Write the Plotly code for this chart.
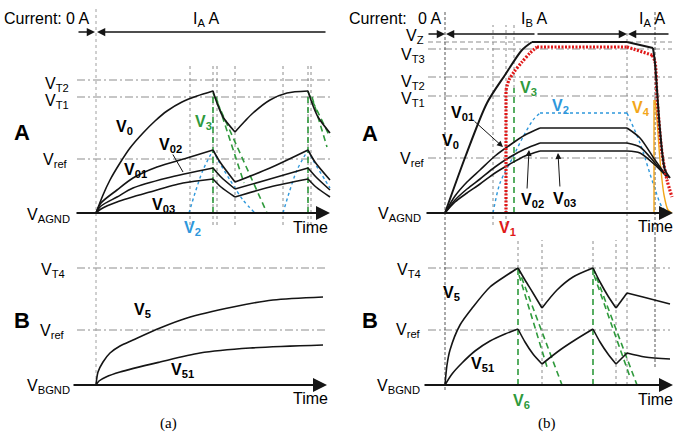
import plotly.graph_objects as go

W, H = 680, 432

# ---------------- data (time t, voltage v; arbitrary units) ----------------
# Panel (a) A
aA_VT2, aA_VT1, aA_Vref = 133, 116, 54
aA_V0_t = [0, 7, 14, 24, 34, 47, 59, 71, 86, 101, 117, None, 117, 121, 127, 139, None,
           139, 149, 157, 174, 191, 212, None, 212, 216, 222, 234]
aA_V0_v = [0, 18, 33, 50, 65, 80, 92, 102, 111, 117, 122, None, 122, 110, 96, 81, None,
           81, 92, 100, 113, 120, 122, None, 122, 110, 96, 80]
aA_V01_t = [0, 5, 21, 37, 71, 117, None, 117, 125, 139, None, 139, 174, 212, None, 212, 220, 234]
aA_V01_v = [0, 7, 16, 25, 35, 45, None, 45, 36, 24, None, 24, 34, 45, None, 45, 36, 23]
aA_V02_t = [0, 5, 21, 37, 61, 91, 117, None, 117, 124, 139, None, 139, 174, 212, None, 212, 219, 234]
aA_V02_v = [0, 10, 23, 35, 46, 55, 63, None, 63, 51, 31, None, 31, 45, 63, None, 63, 51, 33]
aA_V03_t = [0, 5, 21, 54, 87, 117, None, 117, 125, 139, None, 139, 174, 212, None, 212, 220, 234]
aA_V03_v = [0, 4, 11, 21, 30, 34, None, 34, 26, 16, None, 16, 26, 34, None, 34, 26, 16]
aA_V2_t = [93, 99, 107, 117, None, 117, 122, 134, 147, 159, None, 187, 193, 201, 212, None, 212, 217, 229, 234]
aA_V2_v = [0, 20, 43, 63, None, 63, 53, 33, 13, 0, None, 0, 20, 43, 63, None, 63, 53, 33, 25]
aA_V3_t = [117, 117, None, 117, 171, None, 120, 148, None, 212, 212, None, 212, 234, None, 216, 231]
aA_V3_v = [0, 118, None, 120, 0, None, 116, 30, None, 0, 118, None, 121, 76, None, 116, 66]
aA_events_t = [94, 117, 121, 139, 187, 212, 215]

# Panel (a) B
aB_VT4, aB_Vref = 117, 55
aB_V5_t = [0, 2, 7, 14, 24, 37, 64, 91, 137, 177, 227]
aB_V5_v = [0, 13, 23, 32, 39, 45, 57, 67, 78, 85, 88]
aB_V51_t = [0, 3, 10, 24, 64, 104, 154, 227]
aB_V51_v = [0, 4, 8, 13, 23, 32, 37, 40]

# Panel (b) A
bA_VZ, bA_VT3, bA_VT2, bA_VT1, bA_Vref = 171, 164, 136, 117, 55
bA_V0_t = [0, 21, 42, 60, 77, 87, None, 87, 182, None, 182, 208, None, 208, 210, 215, 220, 225]
bA_V0_v = [0, 58, 110, 138, 163, 171, None, 171, 171, None, 171, 165, None, 165, 150, 83, 43, 35]
bA_V1_t = [61, 61, None, 61, 64, 69, 77, 85, 92, None, 92, 182, None, 182, 207, None,
           207, 210, 212, 217, 222, 227]
bA_V1_v = [0, 123, None, 123, 133, 141, 151, 160, 166, None, 166, 166, None, 166, 158, None,
           158, 151, 116, 60, 33, 16]
bA_V2_t = [48, 55, 68, 78, 88, 95, None, 95, 182, None, 182, 195, 208, 217, 223]
bA_V2_v = [0, 30, 56, 76, 93, 100, None, 100, 100, None, 100, 70, 30, 6, 1]
bA_V3_t = [69, 69]
bA_V3_v = [0, 125]
bA_V4_t = [209, 209, None, 210, 212, 215, 219, 223, 227]
bA_V4_v = [0, 113, None, 113, 93, 53, 18, 3, 0]
bA_V0x_t = [0, 10, 22, 35, 50, 65, 80, 95, None, 95, 182, None, 182, 195, 210, 223]
bA_V01_v = [0, 17, 31, 43, 57, 68, 78, 85, None, 85, 85, None, 85, 75, 53, 35]
bA_V02_v = [0, 13, 24, 34, 46, 56, 64, 70, None, 70, 70, None, 70, 66, 50, 35]
bA_V03_v = [0, 11, 20, 29, 40, 49, 57, 62, None, 62, 62, None, 62, 60, 48, 35]

# Panel (b) B
bB_VT4, bB_Vref = 117, 55
bB_V5_t = [0, 2, 5, 15, 28, 45, 62, 73, None, 73, 80, 88, 97, None, 97, 112, 128, 148, None,
           148, 155, 163, 171, None, 171, 182, None, 182, 198, 225]
bB_V5_v = [0, 20, 35, 60, 78, 98, 110, 117, None, 117, 105, 92, 77, None, 77, 95, 108, 117, None,
           117, 103, 89, 77, None, 77, 92, None, 92, 88, 81]
bB_V51_t = [0, 7, 17, 30, 45, 60, 73, None, 73, 80, 88, 97, None, 97, 115, 130, 148, None,
            148, 155, 163, 171, None, 171, 182, None, 182, 200, 225]
bB_V51_v = [0, 11, 22, 34, 44, 51, 56, None, 56, 43, 31, 21, None, 21, 35, 45, 56, None,
            56, 43, 31, 21, None, 21, 32, None, 32, 28, 26]
bB_V6_t = [73, 73, None, 73, 117, None, 74, 102, None, 148, 148, None, 148, 192, None, 149, 185]
bB_V6_v = [0, 117, None, 117, 0, None, 110, 18, None, 0, 117, None, 117, 0, None, 110, 8]

# ---------------- styles ----------------
BLACK = "#151515"
GRAY = "#8c8c8c"
LEVEL = "#b4b4b4"
GREEN = "#2f9a3c"
BLUE = "#2e98dc"
RED = "#e01818"
ORANGE = "#f2a61a"
FONT = "Liberation Sans"

fig = go.Figure()

# panel boxes (pixel frame of each subplot) and time/voltage origins
panels = {
    "":  dict(box=(0, 340, 0, 240), org=(96, 213)),
    "2": dict(box=(0, 340, 240, 432), org=(96, 385)),
    "3": dict(box=(340, 680, 0, 240), org=(445, 213)),
    "4": dict(box=(340, 680, 240, 432), org=(445, 385)),
}
for k, p in panels.items():
    x0, x1, y0, y1 = p["box"]
    ox, oy = p["org"]
    fig.layout["xaxis" + k] = dict(domain=[x0 / W, x1 / W], range=[x0 - ox, x1 - ox], visible=False,
                                   fixedrange=True, anchor="y" + k)
    fig.layout["yaxis" + k] = dict(domain=[1 - y1 / H, 1 - y0 / H], range=[oy - y1, oy - y0], visible=False,
                                   fixedrange=True, anchor="x" + k)


def line(k, t, v, color=BLACK, width=1.6, dash="solid", shape="linear"):
    fig.add_trace(go.Scatter(x=t, y=v, xaxis="x" + k, yaxis="y" + k, mode="lines",
                             line=dict(color=color, width=width, dash=dash, shape=shape, smoothing=0.8),
                             hoverinfo="skip", connectgaps=False, showlegend=False))


def hlines(k, levels, t0, t1, dash="8px,3px,2px,3px", color=LEVEL, width=1.3):
    xs, ys = [], []
    for L in levels:
        xs += [t0, t1, None]
        ys += [L, L, None]
    line(k, xs, ys, color=color, width=width, dash=dash)


def vlines(k, ts, v0, v1, color=GRAY, width=1, dash="dot"):
    xs, ys = [], []
    for t in ts:
        xs += [t, t, None]
        ys += [v0, v1, None]
    line(k, xs, ys, color=color, width=width, dash=dash)


ann = []


def text(k, t, v, s, size=16, color="black", xanchor="center", family=FONT):
    ann.append(dict(xref="x" + k, yref="y" + k, x=t, y=v, text=s, showarrow=False,
                    font=dict(family=family, size=size, color=color), xanchor=xanchor, yanchor="middle"))


def arrow(k, t_tail, v_tail, t_tip, v_tip, width=1.5, size=1.2, head=2):
    ann.append(dict(xref="x" + k, yref="y" + k, axref="x" + k, ayref="y" + k, x=t_tip, y=v_tip,
                    ax=t_tail, ay=v_tail, text="", showarrow=True, arrowhead=head, arrowsize=size,
                    arrowwidth=width, arrowcolor=BLACK, standoff=0, startstandoff=0))


def vlab(name, sub, bold=True):
    s = "V<sub>%s</sub>" % sub
    return "<b>%s</b>" % s if bold else s


CL = 16  # curve label size

# ---------------- panel (a) A ----------------
hlines("", [aA_VT2, aA_VT1, aA_Vref], -19, 234)
vlines("", aA_events_t, -12, 148)
vlines("", [0], -27, 205, color="#a0a0a0")
line("", aA_V2_t, aA_V2_v, color=BLUE, width=1.4, dash="dot", shape="spline")
line("", aA_V3_t, aA_V3_v, color=GREEN, width=1.6, dash="6px,4px")
for tt, vv in [(aA_V0_t, aA_V0_v), (aA_V01_t, aA_V01_v), (aA_V02_t, aA_V02_v), (aA_V03_t, aA_V03_v)]:
    line("", tt, vv, shape="spline")
arrow("", -21, 0, 234, 0, width=2, size=1.4)
arrow("", -19, 181, -1, 181, width=1.5, size=1.1)
arrow("", 231, 181, 1, 181, width=1.5, size=1.1)
text("", -94, 195, "Current:", xanchor="left")
text("", -5, 195, "0 A", xanchor="right")
text("", 110, 194, "I<sub>A</sub> A")
text("", -25, 129, vlab("V", "T2", False), xanchor="right")
text("", -25, 112, vlab("V", "T1", False), xanchor="right")
text("", -26, 53, vlab("V", "ref", False), xanchor="right")
text("", -24, -2, vlab("V", "AGND", False), xanchor="right")
text("", -74, 81, "<b>A</b>", size=22)
text("", 28, 86, vlab("V", "0"), size=CL)
text("", 74, 68, vlab("V", "02"), size=CL)
text("", 39, 43, vlab("V", "01"), size=CL)
text("", 67, 8, vlab("V", "03"), size=CL)
text("", 96, -15, vlab("V", "2"), size=CL, color=BLUE)
text("", 107, 91, vlab("V", "3"), size=CL, color=GREEN)
text("", 214, -14, "Time", size=16)
arrow("", 76, 60, 87, 41, width=1, size=1, head=0)

# ---------------- panel (a) B ----------------
hlines("2", [aB_VT4, aB_Vref], -19, 229)
vlines("2", [0], 0, 145, color="#a0a0a0")
line("2", aB_V5_t, aB_V5_v, shape="spline")
line("2", aB_V51_t, aB_V51_v, shape="spline")
arrow("2", -24, 0, 231, 0, width=2, size=1.4)
text("2", -29, 115, vlab("V", "T4", False), xanchor="right")
text("2", -29, 54, vlab("V", "ref", False), xanchor="right")
text("2", -24, -1, vlab("V", "BGND", False), xanchor="right")
text("2", -74, 65, "<b>B</b>", size=22)
text("2", 46, 75, vlab("V", "5"), size=CL)
text("2", 86, 15, vlab("V", "51"), size=CL)
text("2", 214, -13, "Time", size=16)
text("2", 72, -38, "(a)", size=15, family="Liberation Serif")

# ---------------- panel (b) A ----------------
hlines("3", [bA_VZ], -17, 227, dash="5px,3px")
hlines("3", [bA_VT3, bA_VT2, bA_VT1, bA_Vref], -17, 227)
vlines("3", [48, 61], -12, 188)
vlines("3", [69], 125, 188)
vlines("3", [182], -27, 180)
vlines("3", [0, 210], -27, 203, color="#555555", dash="3px,2px")
line("3", bA_V2_t, bA_V2_v, color=BLUE, width=1.4, dash="dot", shape="spline")
line("3", bA_V3_t, bA_V3_v, color=GREEN, width=1.6, dash="6px,4px")
line("3", bA_V4_t, bA_V4_v, color=ORANGE, width=1.4, shape="spline")
for vv in [bA_V01_v, bA_V02_v, bA_V03_v]:
    line("3", bA_V0x_t, vv, shape="spline")
line("3", bA_V1_t, bA_V1_v, color=RED, width=3.2, dash="2px,1.5px", shape="spline")
line("3", bA_V0_t, bA_V0_v, width=2, shape="spline")
arrow("3", -20, 0, 228, 0, width=2, size=1.4)
arrow("3", -18, 179, 0, 179, width=1.5, size=1.1)
arrow("3", 91, 179, 1, 179, width=1.5, size=1.1)
arrow("3", 91, 179, 182, 179, width=1.5, size=1.1)
arrow("3", 225, 179, 183, 179, width=1.5, size=1.1)
text("3", -98, 195, "Current:", xanchor="left")
text("3", -2, 195, "0 A", xanchor="right")
text("3", 89, 194, "I<sub>B</sub> A")
text("3", 207, 194, "I<sub>A</sub> A")
text("3", -19, 177, vlab("V", "Z", False), xanchor="right")
text("3", -18, 158, vlab("V", "T3", False), xanchor="right")
text("3", -18, 131, vlab("V", "T2", False), xanchor="right")
text("3", -18, 114, vlab("V", "T1", False), xanchor="right")
text("3", -18, 54, vlab("V", "ref", False), xanchor="right")
text("3", -22, -1, vlab("V", "AGND", False), xanchor="right")
text("3", -75, 80, "<b>A</b>", size=22)
text("3", 5, 72, vlab("V", "0"), size=CL)
text("3", 17, 100, vlab("V", "01"), size=CL)
text("3", 83, 125, vlab("V", "3"), size=CL, color=GREEN)
text("3", 115, 107, vlab("V", "2"), size=CL, color=BLUE)
text("3", 196, 105, vlab("V", "4"), size=CL, color=ORANGE)
text("3", 62, -15, vlab("V", "1"), size=CL, color=RED)
text("3", 87, 13, vlab("V", "02"), size=CL)
text("3", 119, 14, vlab("V", "03"), size=CL)
text("3", 210, -13, "Time", size=16)
arrow("3", 28, 93, 58, 66, width=1, size=1.2)
arrow("3", 82, 23, 84, 63, width=1, size=1.2)
arrow("3", 115, 25, 113, 60, width=1, size=1.2)

# ---------------- panel (b) B ----------------
hlines("4", [bB_VT4, bB_Vref], -17, 225)
vlines("4", [73, 148], 117, 145)
vlines("4", [97, 171, 182], 0, 145)
vlines("4", [0], -5, 145, color="#555555", dash="3px,2px")
vlines("4", [210], 18, 145, color="#555555", dash="3px,2px")
line("4", bB_V6_t, bB_V6_v, color=GREEN, width=1.6, dash="6px,4px")
line("4", bB_V5_t, bB_V5_v, shape="spline")
line("4", bB_V51_t, bB_V51_v, shape="spline")
arrow("4", -22, 0, 228, 0, width=2, size=1.4)
text("4", -22, 115, vlab("V", "T4", False), xanchor="right")
text("4", -22, 55, vlab("V", "ref", False), xanchor="right")
text("4", -23, -1, vlab("V", "BGND", False), xanchor="right")
text("4", -75, 65, "<b>B</b>", size=22)
text("4", 6, 92, vlab("V", "5"), size=CL)
text("4", 37, 21, vlab("V", "51"), size=CL)
text("4", 76, -16, vlab("V", "6"), size=CL, color=GREEN)
text("4", 210, -14, "Time", size=16)
text("4", 102, -38, "(b)", size=15, family="Liberation Serif")

fig.update_layout(width=W, height=H, margin=dict(l=0, r=0, t=0, b=0), paper_bgcolor="white",
                  plot_bgcolor="rgba(0,0,0,0)", showlegend=False, annotations=ann,
                  font=dict(family=FONT, color="black"))
fig.write_html("out.html")
